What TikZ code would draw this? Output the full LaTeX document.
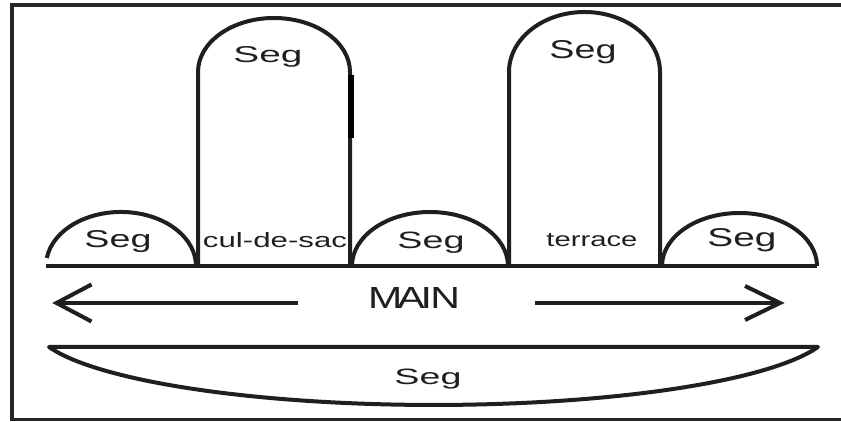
\documentclass[tikz,border=0pt]{standalone}
\usepackage{fontspec}
\setmainfont{Liberation Sans}
\usepackage{graphicx}
\newcommand\fitlbl[3]{\resizebox{#1pt}{#2pt}{#3}}
\tikzset{
  road/.style={line width=4pt, draw=black!88},
  lbl/.style={anchor=base, inner sep=0pt, text=black!88},
  framestyle/.style={line width=3.5pt, draw=black!85},
}
\begin{document}
\begin{tikzpicture}[x=1pt,y=1pt]
\useasboundingbox (0,0) rectangle (841,422);
\clip (0,0) rectangle (841,422);
\fill[white] (0,0) rectangle (841,422);
% frame (open on the right)
\draw[framestyle] (860,417) -- (12,417) -- (12,2.5) -- (860,2.5);
% main baseline
\coordinate (bl) at (46,156);
\coordinate (br) at (817,156);
\draw[road] (bl) -- (br);
% left small segment
\draw[road] (46.8,164) arc[start angle=171.5, end angle=0, x radius=75, y radius=54];
% cul-de-sac
\draw[road] (198,156) -- (198,350) arc[start angle=180, end angle=0, x radius=76, y radius=54] -- (350,156);
\draw[line width=5.5pt, black] (351,347) -- (351,284);
% middle small segment
\draw[road] (352,156) arc[start angle=180, end angle=0, x radius=78, y radius=54];
% terrace
\draw[road] (509,156) -- (509,350) arc[start angle=180, end angle=0, x radius=75.5, y radius=60] -- (660,156);
% right small segment
\draw[road] (662,156) arc[start angle=180, end angle=0, x radius=77.5, y radius=53];
% labels
\node[lbl] (segL)  at (118,174) {\fitlbl{67}{17}{Seg}};
\node[lbl] (cds)   at (275,174) {\fitlbl{144}{15}{cul-de-sac}};
\node[lbl] (segM)  at (431,173) {\fitlbl{67}{16.5}{Seg}};
\node[lbl] (ter)   at (592,175) {\fitlbl{91}{13}{terrace}};
\node[lbl] (segR)  at (742,175) {\fitlbl{69}{18}{Seg}};
\node[lbl] (segT1) at (268,359) {\fitlbl{69}{16}{Seg}};
\node[lbl] (segT2) at (583,363) {\fitlbl{67}{18}{Seg}};
\node[lbl] (main)  at (414,113) {\fitlbl{92}{21}{M\kern-0.12em A\kern-0.1em I\kern-0.04em N}};
\node[lbl] (segB)  at (428,37)  {\fitlbl{67}{15.5}{Seg}};
% arrows
\coordinate (lshaft) at (298,119);
\coordinate (ltip) at (56.5,119);
\coordinate (rshaft) at (535,119);
\coordinate (rtip) at (780,119);
\draw[road] (lshaft) -- (ltip);
\draw[road, line join=miter] ([shift={(35,18.5)}]ltip) -- (ltip) -- ([shift={(35,-18.5)}]ltip);
\draw[road] (rshaft) -- (rtip);
\draw[road, line join=miter] ([shift={(-35,17)}]rtip) -- (rtip) -- ([shift={(-35,-17)}]rtip);
% bottom lens segment
\draw[road, line join=round] (49,75) -- (818,75) arc[start angle=344, end angle=196, x radius=400, y radius=80] -- cycle;
\end{tikzpicture}
\end{document}
